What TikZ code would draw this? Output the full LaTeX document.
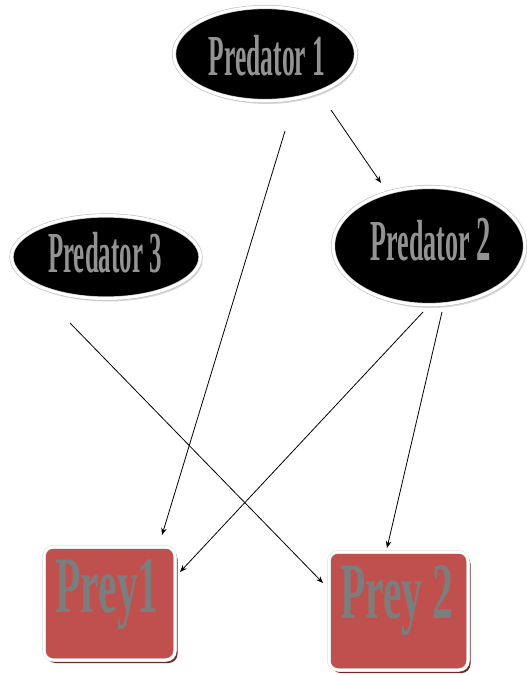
\documentclass[tikz,border=0pt]{standalone}
\usepackage{fontspec}
\setmainfont{Liberation Serif}
\usepackage{graphicx}
\usetikzlibrary{shapes.geometric,shadows,arrows.meta}
\definecolor{preyred}{HTML}{C0504D}
\definecolor{preyshadow}{HTML}{6E2B29}
\definecolor{metal}{HTML}{939393}
\definecolor{preymetal}{HTML}{7D7D7D}
\begin{document}
\begin{tikzpicture}[x=1pt,y=-1pt,
  predbox/.style={ellipse, fill=black, draw=gray!50, line width=0.6pt, double=white, double distance=3pt, inner sep=0pt,
    drop shadow={shadow xshift=2pt, shadow yshift=-3pt, fill=gray!45, opacity=0.7}},
  preybox/.style={rectangle, rounded corners=9pt, fill=preyred, draw=gray!30, line width=0.5pt, double=white, double distance=2.5pt, inner sep=0pt,
    drop shadow={shadow xshift=2.5pt, shadow yshift=-3pt, fill=preyshadow, opacity=1}},
  predtext/.style={text=metal, font=\fontsize{58}{58}\selectfont\bfseries, inner sep=0pt, anchor=base},
  preytext/.style={text=preymetal, font=\fontsize{80}{80}\selectfont\bfseries, inner sep=0pt, anchor=base},
  arr/.style={-{Stealth[length=7pt,width=5.5pt]}, line width=0.8pt, black}]
\useasboundingbox (0,0) rectangle (527,675);

% predator ellipses
\node[predbox, minimum width=182pt, minimum height=94pt] (p1) at (265,54) {};
\node[predbox, minimum width=189pt, minimum height=83pt] (p3) at (106,257) {};
\node[predbox, minimum width=192pt, minimum height=118pt] (p2) at (429,246) {};

% prey boxes
\node[preybox, minimum width=131pt, minimum height=113pt] (q1) at (109.5,603.5) {};
\node[preybox, minimum width=139pt, minimum height=118pt] (q2) at (398.5,611) {};

% texts
\node[predtext] (p1t) at (267,75) {\scalebox{0.44}[1]{Predator 1}};
\node[predtext] (p3t) at (105,272) {\scalebox{0.43}[1]{Predator 3}};
\node[predtext] (p2t) at (431,260) {\scalebox{0.45}[1]{Predator {\fontsize{64}{64}\selectfont 2}}};
\node[preytext] (q1t) at (107,612) {\scalebox{0.52}[1]{Prey1}};
\node[preytext] (q2t) at (397,618) {\scalebox{0.52}[1]{Prey 2}};

% connector ends
\coordinate (s12) at (331,110);  \coordinate (e12) at (381,183);
\coordinate (s1q1) at (285,131); \coordinate (e1q1) at (162,535);
\coordinate (s2q1) at (423,312); \coordinate (e2q1) at (180,572);
\coordinate (s2q2) at (442,312); \coordinate (e2q2) at (387,548);
\coordinate (s3q2) at (70,323);  \coordinate (e3q2) at (323,583);

\draw[arr] (s12) -- (e12);
\draw[arr] (s1q1) -- (e1q1);
\draw[arr] (s2q1) -- (e2q1);
\draw[arr] (s2q2) -- (e2q2);
\draw[arr] (s3q2) -- (e3q2);
\end{tikzpicture}
\end{document}
